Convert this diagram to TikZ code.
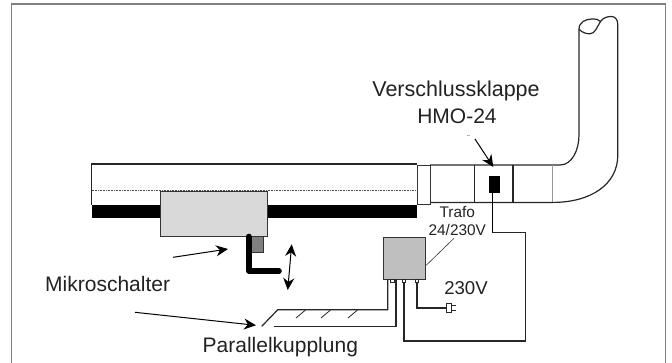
\documentclass[tikz,border=0pt]{standalone}
\usepackage{fontspec}
\setmainfont{Liberation Sans}
\usetikzlibrary{arrows.meta}
\definecolor{txt}{HTML}{222222}
\tikzset{
 ln/.style={draw=black!85,line width=1.2pt},
 thick1/.style={draw=black!85,line width=1.3pt},
 arw/.style={draw=black,line width=1pt,-{Stealth[length=12pt,width=11pt]}},
 darw/.style={draw=black,line width=1pt,{Stealth[length=12pt,width=11pt]}-{Stealth[length=12pt,width=11pt]}},
 lbl/.style={text=txt,inner sep=0pt,anchor=base,font=\fontsize{21}{21}\selectfont},
 small/.style={text=txt,inner sep=0pt,anchor=base,font=\fontsize{15.4}{15.4}\selectfont},
 term/.style={draw=black!85,line width=.8pt,fill=white,minimum width=3.5pt,minimum height=3pt,inner sep=0pt,anchor=north},
}
\begin{document}
\begin{tikzpicture}[x=1pt,y=-1pt]
\useasboundingbox (0,0) rectangle (672,362);
\draw[draw=black!50,line width=1.2pt] (11.5,363) -- (11.5,4) -- (665.5,4) -- (665.5,363);
% main duct
\fill[black] (91.5,204.5) rectangle (416.5,217.5);
\draw[thick1] (416.5,164) -- (91.5,164) -- (91.5,204.5);
\draw[black!70,line width=.6pt,densely dotted] (91.5,190.7) -- (416,190.7);
% slide gate box
\node[draw=black!80,fill=black!15,line width=1.1pt,minimum width=107pt,minimum height=45pt,inner sep=0pt,anchor=north west] (gate) at (160,190.7) {};
\node[draw=black!80,fill=black!50,line width=.8pt,minimum width=11.4pt,minimum height=15.5pt,inner sep=0pt,anchor=north west] (switch) at (251.3,236) {};
\coordinate (ltop) at (248.8,236.5);
\coordinate (lknee) at (248.8,271);
\coordinate (lend) at (279,271);
\draw[black,line width=5.6pt,line cap=round,line join=round] (ltop) -- (lknee) -- (lend);
% collar and pipe
\node[draw=black!80,line width=1.2pt,minimum width=13.4pt,minimum height=39pt,inner sep=0pt,anchor=north west] (collar) at (416.7,165) {};
\draw[ln] (430,165) -- (560,165) .. controls (572,165) and (579,150) .. (579,135) -- (579,29);
\draw[ln] (430,202.4) -- (553,202.4) .. controls (590,202.4) and (617.8,185) .. (617.8,155) -- (617.8,25);
\draw[ln] (579,29) .. controls (579,22) and (586,19) .. (592,19) .. controls (596,19) and (599,19.5) .. (600.5,21.5)
  .. controls (603,18) and (607,16.5) .. (611,16.5) .. controls (615,16.5) and (617.8,19) .. (617.8,25);
\draw[ln] (579,29) .. controls (582,33) and (587,33.8) .. (590,33.8) .. controls (595,33.8) and (597,27) .. (600.5,21.5);
\draw[ln] (474.7,165) -- (474.7,202.4);
\draw[ln] (513,165) -- (513,202.4);
\draw[black!40,line width=.6pt] (552.3,165) -- (552.3,202.4);
% damper
\node[fill=black,minimum width=11pt,minimum height=17pt,inner sep=0pt,anchor=north west] (damper) at (488.3,175.7) {};
% trafo
\node[draw=black!80,fill=black!25,line width=1.2pt,minimum width=42pt,minimum height=42pt,inner sep=0pt,anchor=north west] (trafo) at (383,237) {};
\node[term] (t1) at (392.5,279.2) {};
\node[term] (t2) at (404,279.2) {};
\node[term] (t3) at (417,279.2) {};
% wiring
\coordinate (w1) at (525.3,232.7);
\coordinate (w2) at (525.3,341);
\coordinate (w3) at (404,341);
\coordinate (w0) at (492.5,232.7);
\draw[ln] (t2.south) -- (w3) -- (w2) -- (w1) -- (w0);
\draw[black,line width=1.4pt] (w0) -- (damper.south -| w0);
\coordinate (pin) at (445.7,308);
\draw[ln] (t3.south) -- (t3.south |- pin) -- (pin);
\node[draw=black!85,line width=1pt,fill=white,minimum width=5.2pt,minimum height=9.4pt,inner sep=0pt,anchor=west] (plug) at (pin) {};
\draw[black!85,line width=.8pt] (451,305.6) -- (456,305.6) (451,310.4) -- (456,310.4);
% coupling
\coordinate (c0) at (261.7,326.3);
\coordinate (c1) at (277.7,309.8);
\coordinate (c2) at (387.8,309.8);
\coordinate (c3) at (387.8,279);
\coordinate (d0) at (274.3,326.3);
\coordinate (d1) at (396,326.3);
\coordinate (d2) at (396,279);
\draw[ln] (c0) -- (c1) -- (c2) -- (c3);
\draw[ln] (d0) -- (d1) -- (d2);
\foreach \x in {296,321,348}{\draw[black!85,line width=.8pt] (\x,318) -- (\x+9.5,310);}
% labels
\node[lbl,font=\fontsize{21.5}{21.5}\selectfont] (v1) at (456,96) {Verschlussklappe};
\node[lbl] (v2) at (457,123.3) {HMO-24};
\node[small] (tr1) at (457.3,217.7) {Trafo};
\node[small] (tr2) at (457.3,235.7) {24/230V};
\node[inner sep=0pt,anchor=base,text=txt,font=\fontsize{18.6}{18.6}\selectfont] (volt) at (466,294) {230V};
\node[lbl,anchor=base west] (mik) at (45,291) {Mikroschalter};
\node[lbl,anchor=base west] (par) at (202.5,352.3) {Parallelkupplung};
% leaders and arrows
\coordinate (a0) at (173,257.3);
\coordinate (a1) at (228,249);
\draw[arw] (a0) -- (a1);
\coordinate (b0) at (291.7,244.3);
\coordinate (b1) at (287.7,290);
\draw[darw] (b0) -- (b1);
\coordinate (e0) at (135,312.3);
\coordinate (e1) at (256,325.3);
\draw[arw] (e0) -- (e1);
\coordinate (f0) at (475,139);
\coordinate (f1) at (493.3,167);
\draw[arw] (f0) -- (f1);
\draw[black!30,line width=.5pt] (467,135.3) -- (470,135.3);
\draw[black!80,line width=.6pt] (trafo.east |- 0,265.3) -- (454,238.3);
\end{tikzpicture}
\end{document}
